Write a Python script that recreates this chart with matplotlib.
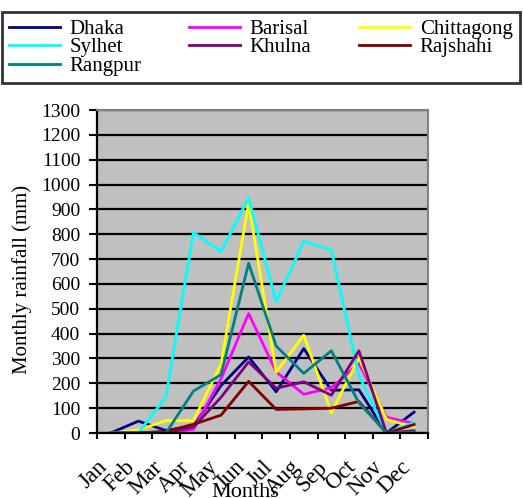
import numpy as np
import matplotlib.pyplot as plt
from matplotlib.transforms import ScaledTranslation

plt.rcParams['font.family'] = ['Liberation Serif', 'DejaVu Serif']

months = ['Jan', 'Feb', 'Mar', 'Apr', 'May', 'Jun',
          'Jul', 'Aug', 'Sep', 'Oct', 'Nov', 'Dec']

# monthly rainfall (mm) per station
dhaka = [0, 48, 10, 28, 191, 306, 166, 340, 172, 174, 0, 84]
barisal = [0, 0, 0, 15, 218, 481, 246, 156, 182, 280, 64, 38]
chittagong = [0, 12, 50, 50, 278, 925, 244, 394, 82, 302, 55, 24]
sylhet = [0, 0, 145, 807, 730, 946, 528, 771, 737, 232, 0, 42]
khulna = [0, 0, 0, 24, 144, 286, 180, 206, 152, 331, 0, 9]
rajshahi = [0, 0, 7, 35, 72, 208, 95, 97, 100, 127, 0, 34]
rangpur = [0, 0, 0, 169, 235, 683, 350, 240, 331, 122, 0, 3]

series = [
    ('Dhaka', dhaka, '#000080'),
    ('Barisal', barisal, '#FF00FF'),
    ('Chittagong', chittagong, '#FFFF00'),
    ('Sylhet', sylhet, '#00FFFF'),
    ('Khulna', khulna, '#800080'),
    ('Rajshahi', rajshahi, '#800000'),
    ('Rangpur', rangpur, '#008080'),
]

fig = plt.figure(figsize=(5.23, 4.98), dpi=100)
ax = fig.add_axes([0.1855, 0.1305, 0.6325, 0.6485])
ax.set_facecolor('#C0C0C0')

x = np.arange(len(months))
handles = {}
for name, vals, col in series:
    handles[name], = ax.plot(x, vals, color=col, lw=2.0, label=name)

ax.set_xlim(-0.5, 11.5)
ax.set_ylim(0, 1300)
ax.set_yticks(np.arange(0, 1301, 100))
ax.yaxis.grid(True, color='black', lw=1.6)
ax.set_axisbelow(True)

# category boundaries get the tick marks, centres get the labels
ax.set_xticks(np.arange(-0.5, 12, 1))
ax.set_xticklabels([])
ax.set_xticks(x, minor=True)
ax.set_xticklabels(months, minor=True, rotation=45, ha='right', va='top',
                   rotation_mode='anchor', fontsize=16.5)
ax.tick_params(axis='x', which='major', direction='out', length=4, width=1.5)
ax.tick_params(axis='x', which='minor', length=0, pad=17)
ax.tick_params(axis='y', direction='out', length=6, width=1.5, pad=6,
               labelsize=14)
shift = ScaledTranslation(-0.14, 0, fig.dpi_scale_trans)
for lab in ax.get_xticklabels(minor=True):
    lab.set_transform(lab.get_transform() + shift)

for s in ('left', 'bottom'):
    ax.spines[s].set_color('black')
    ax.spines[s].set_linewidth(1.6)
for s in ('top', 'right'):
    ax.spines[s].set_color('#808080')
    ax.spines[s].set_linewidth(1.5)

ax.set_ylabel('Monthly rainfall (mm)', fontsize=15)
ax.yaxis.set_label_coords(-0.196, 0.474)
ax.set_xlabel('Months', fontsize=16)
ax.xaxis.set_label_coords(0.447, -0.155)

# legend filled column-wise so entries read across in rows
order = ['Dhaka', 'Sylhet', 'Rangpur', 'Barisal', 'Khulna',
         'Chittagong', 'Rajshahi']
leg = fig.legend([handles[n] for n in order], order, ncol=3,
                 loc='upper left', bbox_to_anchor=(0.004, 0.976, 0.99, 0.0),
                 mode='expand', fontsize=15, frameon=True, fancybox=False,
                 edgecolor='black', handlelength=2.45, handletextpad=0.45,
                 labelspacing=-0.05, borderpad=0.35, borderaxespad=0.0,
                 columnspacing=1.0)
leg.get_frame().set_linewidth(2.0)
for ln in leg.get_lines():
    ln.set_linewidth(2.0)

fig.savefig('out.png', dpi=100)
